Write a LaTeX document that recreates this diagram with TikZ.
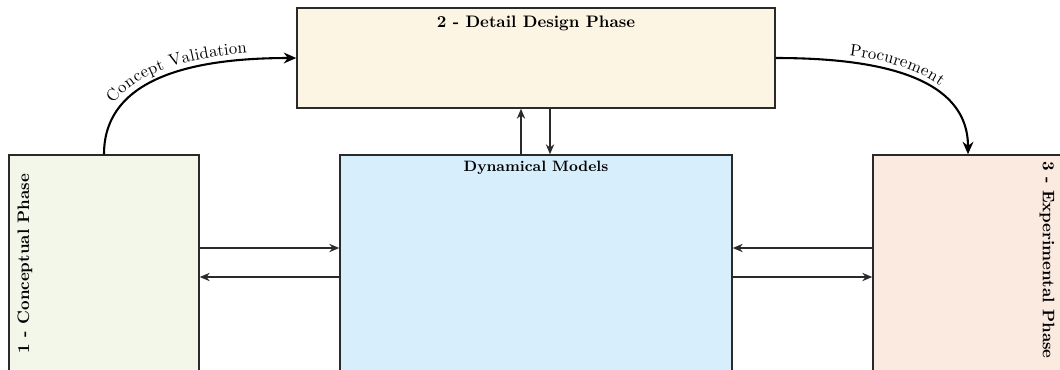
\documentclass[tikz,border=0pt]{standalone}
\usetikzlibrary{arrows.meta,decorations.text}
\definecolor{topfill}{HTML}{FDF5E3}
\definecolor{leftfill}{HTML}{F3F7E9}
\definecolor{midfill}{HTML}{D7EEFC}
\definecolor{rightfill}{HTML}{FAEAE0}
\definecolor{edge}{HTML}{2A2A2A}
\begin{document}
\begin{tikzpicture}[x=0.6pt,y=-0.6pt,
  box/.style={draw=edge, line width=0.9pt, inner sep=0pt},
  boxtitle/.style={font=\bfseries, inner sep=0pt},
  link/.style={draw=edge, line width=0.75pt, -{Stealth[length=6pt,width=5pt]}},
  curvelink/.style={draw=black, line width=1.25pt, -{Stealth[length=7.5pt,width=6.5pt]}}]
\useasboundingbox (0,0) rectangle (1060,369);
\clip (0,0) rectangle (1060,369);
\node[box, fill=topfill, minimum width=286.8pt, minimum height=60pt] (ddp) at (536,58) {};
\node[box, fill=leftfill, minimum width=114pt, minimum height=147pt] (cp) at (104,277.5) {};
\node[box, fill=midfill, minimum width=235.2pt, minimum height=147pt] (dm) at (536,277.5) {};
\node[box, fill=rightfill, minimum width=114pt, minimum height=147pt] (ep) at (968,277.5) {};
\node[boxtitle] (ddpt) at (536,23.5) {2 - Detail Design Phase};
\node[boxtitle, font=\bfseries\small] (dmt) at (536,167.5) {Dynamical Models};
\node[boxtitle, rotate=90] (cpt) at (25,263.5) {1 - Conceptual Phase};
\node[boxtitle, rotate=-90] (ept) at (1047,260) {3 - Experimental Phase};
\coordinate (r1) at (0,248);
\coordinate (r2) at (0,277);
\coordinate (c1) at (521,0);
\coordinate (c2) at (550,0);
\draw[link] (cp.east |- r1) -- (dm.west |- r1);
\draw[link] (dm.west |- r2) -- (cp.east |- r2);
\draw[link] (ep.west |- r1) -- (dm.east |- r1);
\draw[link] (dm.east |- r2) -- (ep.west |- r2);
\draw[link] (dm.north -| c1) -- (ddp.south -| c1);
\draw[link] (ddp.south -| c2) -- (dm.north -| c2);
\draw[curvelink] (cp.north) to[out=90,in=180] (ddp.west);
\draw[curvelink] (ddp.east) to[out=0,in=90] (ep.north);
\path[decorate, decoration={text along path, text align=center, raise=4pt,
  text={Concept Validation}}] (cp.north) to[out=90,in=180] (ddp.west);
\path[decorate, decoration={text along path, text align=center, raise=4pt,
  text={Procurement}}] (ddp.east) to[out=0,in=90] (ep.north);
\end{tikzpicture}
\end{document}
